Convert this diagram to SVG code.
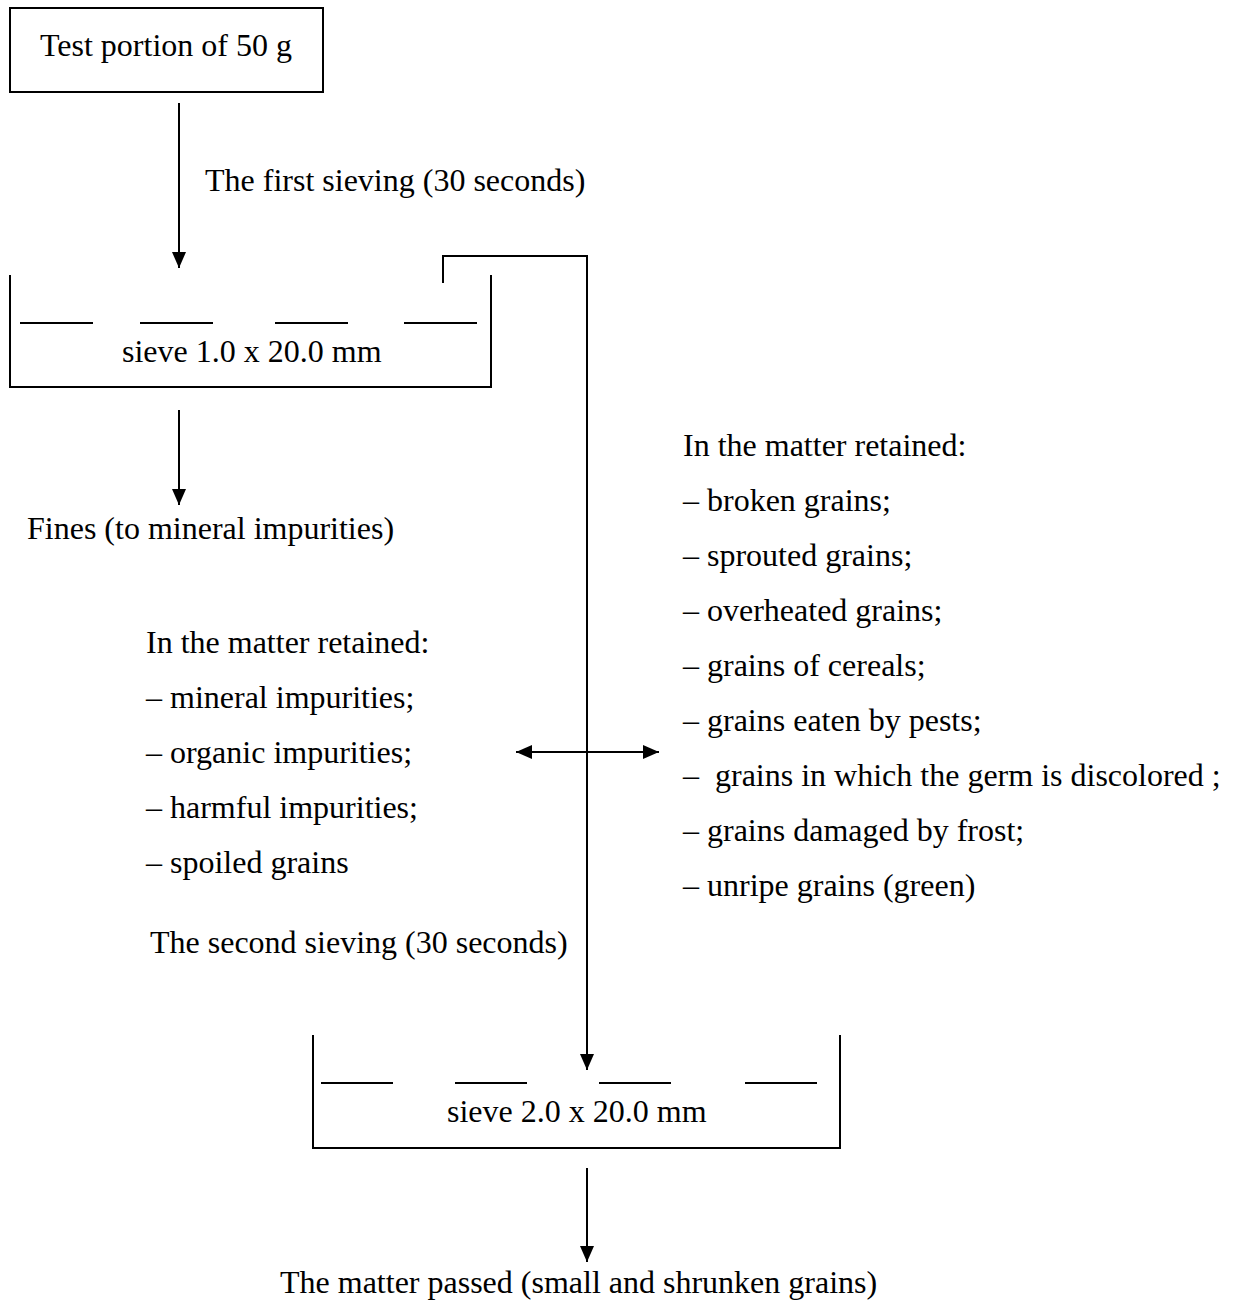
<svg xmlns="http://www.w3.org/2000/svg" width="1235" height="1301" viewBox="0 0 1235 1301">
<style>
text { font-family: "Liberation Serif", "Times New Roman", serif; font-size: 32px; fill: #000; white-space: pre; }
.ln { stroke: #000; stroke-width: 2; fill: none; }
.con { stroke: #000; stroke-width: 2; fill: none; }
</style>
<defs>
<marker id="ah" viewBox="0 0 16 14" refX="16" refY="7" markerWidth="16" markerHeight="14" markerUnits="userSpaceOnUse" orient="auto">
<path d="M0,0 L16,7 L0,14 Z" fill="#000"/>
</marker>
</defs>
<rect width="1235" height="1301" fill="#fff"/>

<g id="node-test-portion">
<rect class="ln" x="10" y="8" width="313" height="84"/>
<text x="40" y="56">Test portion of 50 g</text>
</g>

<g id="label-first-sieving">
<text x="205" y="191">The first sieving (30 seconds)</text>
</g>

<g id="node-sieve1">
<path class="ln" d="M10,275 V387 H491 V275"/>
<path class="ln" d="M20,323 H93 M140,323 H213 M275,323 H348 M404,323 H477"/>
<text x="122" y="362">sieve 1.0 x 20.0 mm</text>
</g>

<g id="node-fines">
<text x="27" y="539">Fines (to mineral impurities)</text>
</g>

<g id="node-left-list">
<text x="146" y="653">In the matter retained:</text>
<text x="146" y="708">– mineral impurities;</text>
<text x="146" y="763">– organic impurities;</text>
<text x="146" y="818">– harmful impurities;</text>
<text x="146" y="873">– spoiled grains</text>
</g>

<g id="node-right-list">
<text x="683" y="456">In the matter retained:</text>
<text x="683" y="511">– broken grains;</text>
<text x="683" y="566">– sprouted grains;</text>
<text x="683" y="621">– overheated grains;</text>
<text x="683" y="676">– grains of cereals;</text>
<text x="683" y="731">– grains eaten by pests;</text>
<text x="683" y="786">–  grains in which the germ is discolored ;</text>
<text x="683" y="841">– grains damaged by frost;</text>
<text x="683" y="896">– unripe grains (green)</text>
</g>

<g id="label-second-sieving">
<text x="150" y="953">The second sieving (30 seconds)</text>
</g>

<g id="node-sieve2">
<path class="ln" d="M313,1035 V1148 H840 V1035"/>
<path class="ln" d="M321,1083 H393 M455,1083 H527 M599,1083 H671 M745,1083 H817"/>
<text x="447" y="1122">sieve 2.0 x 20.0 mm</text>
</g>

<g id="node-matter-passed">
<text x="280" y="1293">The matter passed (small and shrunken grains)</text>
</g>

<g id="connectors">
<line class="con" x1="179" y1="103" x2="179" y2="268" marker-end="url(#ah)"/>
<line class="con" x1="179" y1="410" x2="179" y2="505" marker-end="url(#ah)"/>
<path class="con" d="M443,283 V256 H587 V1070" marker-end="url(#ah)"/>
<line class="con" x1="587" y1="752" x2="516" y2="752" marker-end="url(#ah)"/>
<line class="con" x1="587" y1="752" x2="659" y2="752" marker-end="url(#ah)"/>
<line class="con" x1="587" y1="1168" x2="587" y2="1262" marker-end="url(#ah)"/>
</g>
</svg>
